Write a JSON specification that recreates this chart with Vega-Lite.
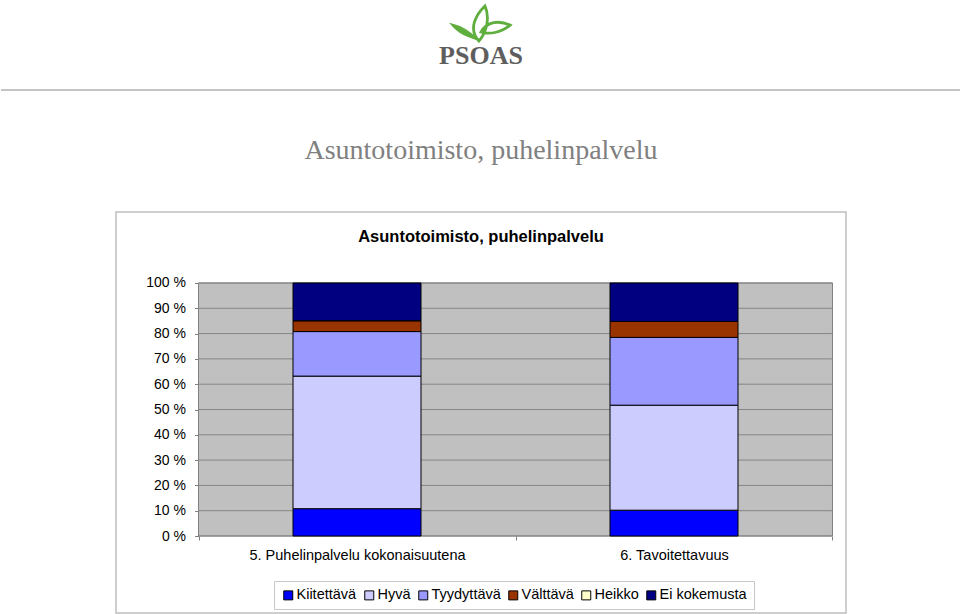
{
  "$schema": "https://vega.github.io/schema/vega-lite/v6.json",
  "background": "white",
  "padding": 0,
  "autosize": {"type": "pad"},
  "config": {"font": "Liberation Sans", "view": {"stroke": null}},
  "bounds": "flush",
  "center": true,
  "spacing": 122,
  "vconcat": [
    {
      "width": 960,
      "height": 89,
      "data": {"values": [{}]},
      "layer": [
        {
          "mark": {"type": "rule", "stroke": "#c4c4c4", "strokeWidth": 2},
          "encoding": {
            "x": {"datum": 0, "type": "quantitative", "scale": {"domain": [0, 1], "nice": false, "zero": false}, "axis": null},
            "x2": {"datum": 1},
            "y": {"datum": 0, "type": "quantitative", "scale": {"domain": [0, 1], "nice": false, "zero": false}, "axis": null}
          }
        },
        {
          "mark": {"type": "text", "text": "PSOAS", "font": "Liberation Serif", "fontWeight": "bold", "fontSize": 26, "fill": "#5e5e5e", "baseline": "alphabetic", "align": "center"},
          "encoding": {
            "x": {"datum": 0.5, "type": "quantitative", "scale": {"domain": [0, 1], "nice": false, "zero": false}, "axis": null},
            "y": {"datum": 0.292, "type": "quantitative", "scale": {"domain": [0, 1], "nice": false, "zero": false}, "axis": null}
          }
        },
        {
          "mark": {"type": "point", "shape": "M -0.07 0.6 C -0.45 0.2 -0.15 -0.3 0.13 -0.57 C 0.3 -0.2 0.2 0.3 -0.07 0.6 Z M 0 0.3 C 0.2 -0.05 0.6 -0.1 0.97 0.07 C 0.7 0.3 0.3 0.4 0 0.3 Z", "size": 3600, "filled": false, "stroke": "#5fae3e", "strokeWidth": 2.8, "opacity": 1},
          "encoding": {
            "x": {"datum": 0.5, "type": "quantitative", "scale": {"domain": [0, 1], "nice": false, "zero": false}, "axis": null},
            "y": {"datum": 0.753, "type": "quantitative", "scale": {"domain": [0, 1], "nice": false, "zero": false}, "axis": null}
          }
        },
        {
          "mark": {"type": "point", "shape": "M -1 0.03 C -0.7 0.1 -0.35 0.3 -0.13 0.55 C -0.45 0.45 -0.75 0.35 -1 0.03 Z", "size": 3600, "filled": true, "fill": "#5fae3e", "stroke": "#5fae3e", "strokeWidth": 1.5, "opacity": 1},
          "encoding": {
            "x": {"datum": 0.5, "type": "quantitative", "scale": {"domain": [0, 1], "nice": false, "zero": false}, "axis": null},
            "y": {"datum": 0.753, "type": "quantitative", "scale": {"domain": [0, 1], "nice": false, "zero": false}, "axis": null}
          }
        }
      ]
    },
    {
      "width": 730,
      "height": 401,
      "view": {"stroke": "#bfbfbf", "strokeWidth": 1.5},
      "title": {
        "text": "Asuntotoimisto, puhelinpalvelu",
        "subtitle": "Asuntotoimisto, puhelinpalvelu",
        "anchor": "middle",
        "font": "Liberation Serif",
        "fontSize": 28,
        "fontWeight": "normal",
        "color": "#808080",
        "subtitleFont": "Liberation Sans",
        "subtitleFontSize": 16.5,
        "subtitleFontWeight": "bold",
        "subtitleColor": "black",
        "subtitlePadding": 64,
        "offset": -33
      },
      "layer": [
        {
          "data": {"values": [{}]},
          "mark": {"type": "rect", "fill": "#c0c0c0", "stroke": "#808080", "strokeWidth": 1},
          "encoding": {
            "x": {"datum": 4.5, "type": "quantitative", "title": null,
              "scale": {"domain": [4.2397, 6.5426], "nice": false, "zero": false, "padding": 0},
              "axis": {"values": [4.5, 5.5, 6.5], "labelExpr": "datum.value == 4.5 ? '5. Puhelinpalvelu kokonaisuutena' : (datum.value == 5.5 ? '6. Tavoitettavuus' : '')", "labelOffset": 158.5, "offset": -77, "domain": false, "grid": false, "tickSize": 4, "tickColor": "#808080", "labelFont": "Liberation Sans", "labelFontSize": 14.5, "labelColor": "black", "labelPadding": 8, "labelLimit": 500, "labelBound": false, "labelOverlap": false, "labelFlush": false, "title": null}},
            "x2": {"datum": 6.5},
            "y": {"datum": 0, "type": "quantitative", "title": null,
              "scale": {"domain": [-30.43, 128.06], "nice": false, "zero": false},
              "axis": {"values": [0, 10, 20, 30, 40, 50, 60, 70, 80, 90, 100], "labelExpr": "datum.value + ' %'", "offset": -82.5, "domain": false, "grid": false, "tickSize": 4, "tickColor": "#808080", "labelFont": "Liberation Sans", "labelFontSize": 14, "labelColor": "black", "labelPadding": 9, "title": null}},
            "y2": {"datum": 100}
          }
        },
        {
          "data": {"values": [{"v": 0}, {"v": 10}, {"v": 20}, {"v": 30}, {"v": 40}, {"v": 50}, {"v": 60}, {"v": 70}, {"v": 80}, {"v": 90}, {"v": 100}]},
          "mark": {"type": "rule", "stroke": "#858585", "strokeWidth": 1},
          "encoding": {
            "x": {"datum": 4.5, "type": "quantitative", "title": null, "scale": {"domain": [4.2397, 6.5426], "nice": false, "zero": false, "padding": 0}},
            "x2": {"datum": 6.5},
            "y": {"field": "v", "type": "quantitative", "title": null, "scale": {"domain": [-30.43, 128.06], "nice": false, "zero": false}}
          }
        },
        {
          "data": {"values": [
            {"nro": 5, "kysymys": "5. Puhelinpalvelu kokonaisuutena", "vaihtoehto": 1, "arvio": "Kiitettävä", "osuus": 10.8},
            {"nro": 5, "kysymys": "5. Puhelinpalvelu kokonaisuutena", "vaihtoehto": 2, "arvio": "Hyvä", "osuus": 52.4},
            {"nro": 5, "kysymys": "5. Puhelinpalvelu kokonaisuutena", "vaihtoehto": 3, "arvio": "Tyydyttävä", "osuus": 17.6},
            {"nro": 5, "kysymys": "5. Puhelinpalvelu kokonaisuutena", "vaihtoehto": 4, "arvio": "Välttävä", "osuus": 4.3},
            {"nro": 5, "kysymys": "5. Puhelinpalvelu kokonaisuutena", "vaihtoehto": 5, "arvio": "Heikko", "osuus": 0},
            {"nro": 5, "kysymys": "5. Puhelinpalvelu kokonaisuutena", "vaihtoehto": 6, "arvio": "Ei kokemusta", "osuus": 14.9},
            {"nro": 6, "kysymys": "6. Tavoitettavuus", "vaihtoehto": 1, "arvio": "Kiitettävä", "osuus": 10.2},
            {"nro": 6, "kysymys": "6. Tavoitettavuus", "vaihtoehto": 2, "arvio": "Hyvä", "osuus": 41.5},
            {"nro": 6, "kysymys": "6. Tavoitettavuus", "vaihtoehto": 3, "arvio": "Tyydyttävä", "osuus": 26.8},
            {"nro": 6, "kysymys": "6. Tavoitettavuus", "vaihtoehto": 4, "arvio": "Välttävä", "osuus": 6.3},
            {"nro": 6, "kysymys": "6. Tavoitettavuus", "vaihtoehto": 5, "arvio": "Heikko", "osuus": 0},
            {"nro": 6, "kysymys": "6. Tavoitettavuus", "vaihtoehto": 6, "arvio": "Ei kokemusta", "osuus": 15.2}
          ]},
          "mark": {"type": "bar", "orient": "vertical", "width": 128, "stroke": "black", "strokeWidth": 1},
          "encoding": {
            "x": {"field": "nro", "type": "quantitative", "title": null, "scale": {"domain": [4.2397, 6.5426], "nice": false, "zero": false, "padding": 0}},
            "y": {"field": "osuus", "type": "quantitative", "stack": "zero", "title": null, "scale": {"domain": [-30.43, 128.06], "nice": false, "zero": false}},
            "color": {
              "field": "arvio", "type": "nominal",
              "scale": {
                "domain": ["Kiitettävä", "Hyvä", "Tyydyttävä", "Välttävä", "Heikko", "Ei kokemusta"],
                "range": ["#0000ff", "#ccccff", "#9999ff", "#993300", "#ffffcc", "#000080"]
              },
              "legend": {"title": null, "orient": "none", "legendX": 273, "legendY": 580, "direction": "horizontal", "symbolType": "square", "symbolSize": 81, "symbolStrokeColor": "black", "symbolStrokeWidth": 1, "labelFont": "Liberation Sans", "labelFontSize": 14.5, "labelColor": "black", "labelOffset": 1, "columnPadding": 5, "padding": 7, "strokeColor": "#c8c8c8", "fillColor": "white"}
            },
            "order": {"field": "vaihtoehto", "type": "quantitative", "sort": "ascending"}
          }
        }
      ]
    }
  ]
}
